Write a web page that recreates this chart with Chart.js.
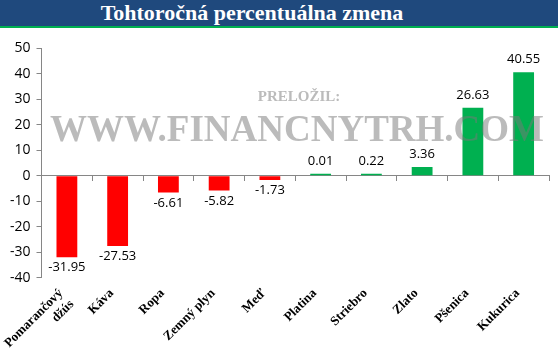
<!DOCTYPE html>
<html lang="sk">
<head>
<meta charset="UTF-8">
<title>Tohtoročná percentuálna zmena</title>
<script src="https://cdn.jsdelivr.net/npm/chart.js"></script>
<style>
    body { margin: 0; width: 558px; height: 362px; background: #fff; overflow: hidden; position: relative; }
    .title-bar { position: absolute; left: 0; top: 0; width: 558px; height: 26px; background: #1f497d;
        border-bottom: 2px solid #00b050; }
    .title-bar span { position: absolute; left: 0; width: 504px; text-align: center; color: #fff;
        font: bold 22px "Liberation Serif", serif; line-height: 26px; }
    .chart-box { position: absolute; left: 0; top: 28px; width: 558px; height: 334px; }
    .wm { position: absolute; left: 0; width: 558px; text-align: center; color: rgba(120,120,120,0.5);
        font-family: "Liberation Serif", serif; font-weight: bold; pointer-events: none; }
</style>
</head>
<body>
<div class="title-bar"><span>Tohtoročná percentuálna zmena</span></div>
<div class="chart-box"><canvas id="chart"></canvas></div>
<div class="wm" style="top:88px; left:20px; font-size:15px;">PRELOŽIL:</div>
<div class="wm" style="top:107px; left:18px; font-size:37px;">WWW.FINANCNYTRH.COM</div>
<script>
    const categories = [['Pomarančový', 'džús'], 'Káva', 'Ropa', 'Zemný plyn', 'Meď', 'Platina', 'Striebro', 'Zlato', 'Pšenica', 'Kukurica'];
    const changes = [-31.95, -27.53, -6.61, -5.82, -1.73, 0.01, 0.22, 3.36, 26.63, 40.55];
    const yTicks = [50, 40, 30, 20, 10, 0, -10, -20, -30, -40];

    // hodnoty nad / pod stlpcami
    const valueLabels = {
        id: 'valueLabels',
        afterDatasetsDraw(chart) {
            const ctx = chart.ctx;
            const meta = chart.getDatasetMeta(0);
            ctx.save();
            ctx.font = '13px "Open Sans", sans-serif';
            ctx.fillStyle = '#000';
            ctx.textAlign = 'center';
            meta.data.forEach((bar, i) => {
                const v = changes[i];
                if (v >= 0) {
                    ctx.textBaseline = 'bottom';
                    ctx.fillText(v.toFixed(2), bar.x, bar.y - 6);
                } else {
                    ctx.textBaseline = 'top';
                    ctx.fillText(v.toFixed(2), bar.x, bar.y + 4);
                }
            });
            ctx.restore();
        }
    };

    new Chart(document.getElementById('chart'), {
        type: 'bar',
        data: {
            labels: categories,
            datasets: [{
                data: changes,
                backgroundColor: changes.map(v => v < 0 ? '#ff0000' : '#00b050'),
                barPercentage: 0.41,
                categoryPercentage: 1,
                minBarLength: 2
            }]
        },
        options: {
            responsive: true,
            maintainAspectRatio: false,
            animation: false,
            layout: { padding: { top: 20, right: 9, left: 4 } },
            plugins: { legend: { display: false }, tooltip: { enabled: false } },
            scales: {
                x: {
                    grid: { display: false },
                    border: { display: false },
                    ticks: {
                        autoSkip: false,
                        minRotation: 45, maxRotation: 45, padding: 0, labelOffset: -6,
                        color: '#000',
                        font: { family: '"Liberation Serif", serif', weight: 'bold', size: 13 }
                    }
                },
                x2: {
                    type: 'category',
                    axis: 'x',
                    position: { y: 0 },
                    labels: categories,
                    offset: true,
                    grid: { offset: true, drawOnChartArea: false, drawTicks: true, tickLength: 5, color: '#868686' },
                    border: { display: true, color: '#868686', width: 1 },
                    ticks: { display: false }
                },
                y: {
                    min: -40,
                    max: 50,
                    afterBuildTicks: axis => { axis.ticks = yTicks.map(v => ({ value: v })); },
                    grid: { drawOnChartArea: false, drawTicks: true, tickLength: 5, color: '#868686' },
                    border: { display: true, color: '#868686' },
                    ticks: {
                        color: '#000', padding: 6,
                        font: { family: '"Open Sans", sans-serif', size: 14 }
                    }
                }
            }
        },
        plugins: [valueLabels]
    });
</script>
</body>
</html>
